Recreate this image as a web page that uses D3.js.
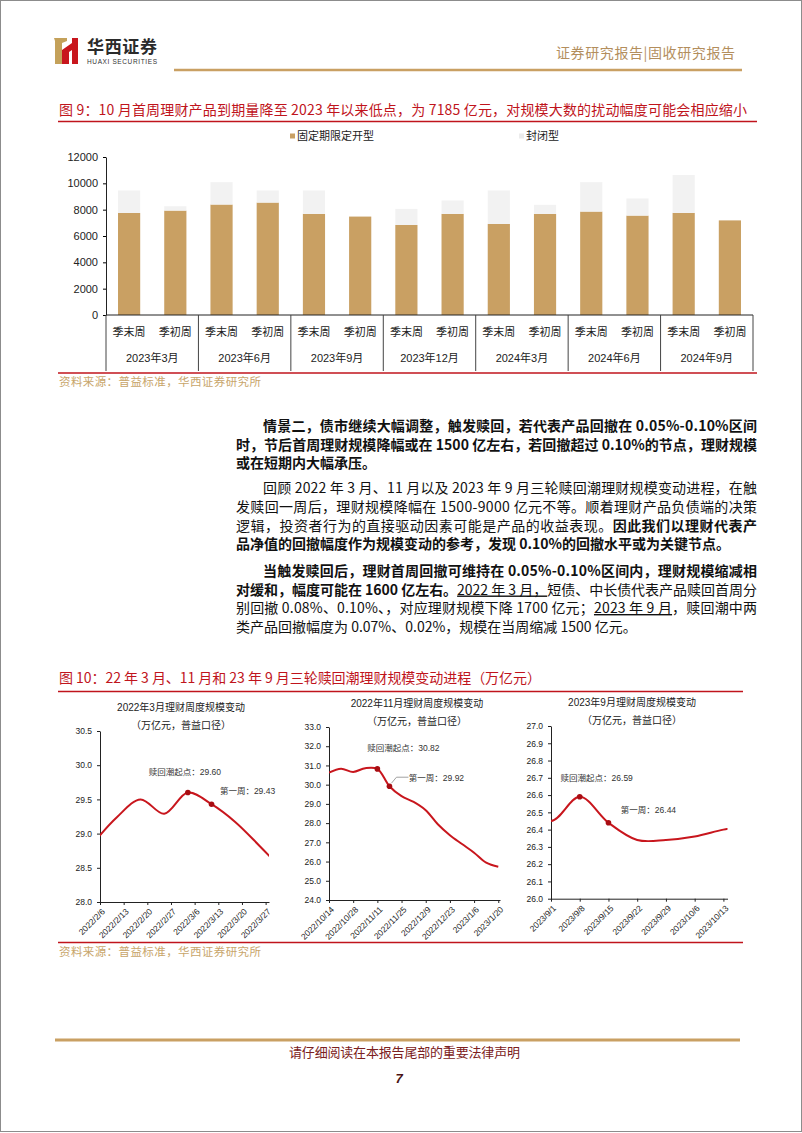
<!DOCTYPE html>
<html lang="zh">
    <head>
        <meta charset="UTF-8" />
        <title>华西证券 固收研究报告</title>
        <style>
            body { margin: 0; background: #fff; }
            svg text { font-family: "Liberation Sans", "Noto Sans CJK SC", sans-serif; }
        </style>
    </head>
    <body>
        <div id="main"></div>
        <script src="https://cdn.jsdelivr.net/npm/d3@7/dist/d3.min.js"></script>
        <script>
            // figure 9: weekly maturities (亿元)
            const barGroups = ["2023年3月", "2023年6月", "2023年9月", "2023年12月", "2024年3月", "2024年6月", "2024年9月"]
            const weekTypes = ["季末周", "季初周"]
            const fixedTerm = [7750, 7930, 8390, 8540, 7680, 7475, 6840, 7680, 6915, 7680, 7855, 7550, 7755, 7185]
            const closedEnd = [1710, 330, 1700, 920, 1780, 0, 1220, 1020, 2545, 685, 2235, 1300, 2875, 0]
            const barTicks = [0, 2000, 4000, 6000, 8000, 10000, 12000]
            const seriesNames = ["固定期限定开型", "封闭型"]

            // figure 10: weekly scale (万亿元)
            const mar22Dates = ["2022-02-04", "2022-02-11", "2022-02-18", "2022-02-25", "2022-03-04", "2022-03-11", "2022-03-18", "2022-03-25", "2022-04-01"]
            const mar22Values = [28.86, 29.24, 29.5, 29.29, 29.6, 29.43, 29.17, 28.83, 28.47]
            const mar22Ticks = ["2022/2/6", "2022/2/13", "2022/2/20", "2022/2/27", "2022/3/6", "2022/3/13", "2022/3/20", "2022/3/27"]
            const mar22YTicks = [28.0, 28.5, 29.0, 29.5, 30.0, 30.5]

            const nov22Dates = ["2022-10-14", "2022-10-21", "2022-10-28", "2022-11-04", "2022-11-11", "2022-11-18", "2022-11-25", "2022-12-02", "2022-12-09", "2022-12-16", "2022-12-23", "2022-12-30", "2023-01-06", "2023-01-13", "2023-01-20"]
            const nov22Values = [30.63, 30.83, 30.66, 30.86, 30.82, 29.92, 29.4, 29.1, 28.67, 27.94, 27.37, 26.91, 26.46, 25.94, 25.73]
            const nov22Ticks = ["2022/10/14", "2022/10/28", "2022/11/11", "2022/11/25", "2022/12/9", "2022/12/23", "2023/1/6", "2023/1/20"]
            const nov22YTicks = [24, 25, 26, 27, 28, 29, 30, 31, 32, 33]

            const sep23Dates = ["2023-08-25", "2023-09-01", "2023-09-08", "2023-09-15", "2023-09-22", "2023-09-29", "2023-10-06", "2023-10-13", "2023-10-20"]
            const sep23Values = [26.56, 26.45, 26.59, 26.44, 26.34, 26.34, 26.36, 26.4, 26.43]
            const sep23Ticks = ["2023/9/1", "2023/9/8", "2023/9/15", "2023/9/22", "2023/9/29", "2023/10/6", "2023/10/13"]
            const sep23YTicks = [26.0, 26.1, 26.2, 26.3, 26.4, 26.5, 26.6, 26.7, 26.8, 26.9, 27.0]

            const gold = "#c9a063"
            const red = "#c0141c"
            const cjk = "\"Noto Sans CJK SC\", sans-serif"

            const svg = d3.select("#main")
                .append("svg")
                .attr("width", 802)
                .attr("height", 1133)

            svg.append("rect")
                .attr("x", 0.5).attr("y", 0.5)
                .attr("width", 801).attr("height", 1131)
                .attr("fill", "none")
                .attr("stroke", "#8c8c8c")

            drawHeader()
            drawBarChart()
            drawParagraphs()
            drawFigure10()
            drawFooter()

            function fitLine(sel, target) {
                const node = sel.node()
                const natural = node.getComputedTextLength()
                const n = node.textContent.length
                if (n > 1) sel.attr("letter-spacing", (target - natural) / (n - 1))
            }

            function drawHeader() {
                // logo mark
                svg.append("path")
                    .attr("d", "M54,38 L67,38 L67,41 L62,43 L62,64 L55,64 L55,41 Z")
                    .attr("fill", "#c4a15a")
                svg.append("path")
                    .attr("d", "M62,50 L72,43 L72,38 L78,38 L78,64 L72,64 L72,50 L69,52 L69,64 L62,64 Z")
                    .attr("fill", "#c8161d")
                svg.append("text")
                    .attr("x", 87).attr("y", 53)
                    .attr("font-size", 17)
                    .attr("font-weight", 700)
                    .attr("fill", "#2b2b2b")
                    .style("font-family", cjk)
                    .text("华西证券")
                    .call(fitLine, 70)
                svg.append("text")
                    .attr("x", 87).attr("y", 64)
                    .attr("font-size", 6.5)
                    .attr("fill", "#333")
                    .text("HUAXI SECURITIES")
                    .call(fitLine, 70)

                svg.append("text")
                    .attr("x", 556).attr("y", 58)
                    .attr("font-size", 14)
                    .attr("fill", "#b38e5d")
                    .style("font-family", cjk)
                    .text("证券研究报告|固收研究报告")
                    .call(fitLine, 179)
                svg.append("line")
                    .attr("x1", 174).attr("x2", 742)
                    .attr("y1", 70).attr("y2", 70)
                    .attr("stroke", gold)
                    .attr("stroke-width", 2.5)

                svg.append("text")
                    .attr("x", 59).attr("y", 115)
                    .attr("font-size", 14)
                    .attr("fill", red)
                    .style("font-family", cjk)
                    .text("图 9：10 月首周理财产品到期量降至 2023 年以来低点，为 7185 亿元，对规模大数的扰动幅度可能会相应缩小")
                    .call(fitLine, 688)
                svg.append("line")
                    .attr("x1", 58).attr("x2", 757)
                    .attr("y1", 121.5).attr("y2", 121.5)
                    .attr("stroke", red)
                    .attr("stroke-width", 1.5)
            }

            function drawBarChart() {
                const rows = fixedTerm.map((d, i) => ({
                    group: barGroups[Math.floor(i / 2)],
                    week: weekTypes[i % 2],
                    fixed: d,
                    closed: closedEnd[i]
                }))
                const stack = d3.stack().keys(["fixed", "closed"])(rows)

                const x0 = d3.scaleBand().domain(barGroups).range([106, 753])
                const x1 = d3.scaleBand()
                    .domain(weekTypes)
                    .range([0, x0.bandwidth()])
                    .paddingInner(0.52)
                    .paddingOuter(0.26)
                const y = d3.scaleLinear().domain([0, 12000]).range([315, 157])
                const colors = [gold, "#f2f2f2"]

                const g = svg.append("g")
                g.selectAll("g.series")
                    .data(stack)
                    .enter()
                    .append("g")
                    .classed("series", true)
                    .attr("fill", (d, i) => colors[i])
                    .selectAll("rect")
                    .data((d) => d)
                    .enter()
                    .append("rect")
                    .attr("x", (d) => x0(d.data.group) + x1(d.data.week))
                    .attr("y", (d) => y(d[1]))
                    .attr("width", x1.bandwidth())
                    .attr("height", (d) => y(d[0]) - y(d[1]))

                const yAxis = g.append("g")
                    .attr("transform", "translate(106,0)")
                    .call(d3.axisLeft(y).tickValues(barTicks).tickFormat(d3.format("d")).tickSize(3).tickPadding(5).tickSizeOuter(0))
                yAxis.selectAll("text").attr("font-size", 11).attr("fill", "#222")
                yAxis.select(".domain").attr("stroke", "#222")

                g.append("line")
                    .attr("x1", 106).attr("x2", 753)
                    .attr("y1", 315).attr("y2", 315)
                    .attr("stroke", "#222")
                g.selectAll("line.divider")
                    .data(barGroups.map((d) => x0(d)).concat([753]))
                    .enter()
                    .append("line")
                    .classed("divider", true)
                    .attr("x1", (d) => d).attr("x2", (d) => d)
                    .attr("y1", 315).attr("y2", 371)
                    .attr("stroke", "#444")
                g.selectAll("text.week")
                    .data(rows)
                    .enter()
                    .append("text")
                    .classed("week", true)
                    .attr("x", (d) => x0(d.group) + x1(d.week) + x1.bandwidth() / 2)
                    .attr("y", 336)
                    .attr("text-anchor", "middle")
                    .attr("font-size", 11)
                    .attr("fill", "#222")
                    .text((d) => d.week)
                g.selectAll("text.group")
                    .data(barGroups)
                    .enter()
                    .append("text")
                    .classed("group", true)
                    .attr("x", (d) => x0(d) + x0.bandwidth() / 2)
                    .attr("y", 362)
                    .attr("text-anchor", "middle")
                    .attr("font-size", 11)
                    .attr("fill", "#222")
                    .text((d) => d)

                // legend
                const legendX = [290, 519]
                seriesNames.forEach((name, i) => {
                    g.append("rect")
                        .attr("x", legendX[i]).attr("y", 133.5)
                        .attr("width", 5).attr("height", 5)
                        .attr("fill", i === 0 ? gold : "#ececec")
                    g.append("text")
                        .attr("x", legendX[i] + 7).attr("y", 140)
                        .attr("font-size", 11)
                        .attr("fill", "#222")
                        .text(name)
                })

                svg.append("line")
                    .attr("x1", 58).attr("x2", 757)
                    .attr("y1", 373).attr("y2", 373)
                    .attr("stroke", red)
                    .attr("stroke-width", 1.5)
                svg.append("text")
                    .attr("x", 59).attr("y", 386)
                    .attr("font-size", 11.5)
                    .attr("fill", "#c8a56a")
                    .style("font-family", cjk)
                    .text("资料来源：普益标准，华西证券研究所")
                    .call(fitLine, 202)
            }

            function drawParagraphs() {
                // [segments, baseline, indent, justify]; segment = [text, bold, underline]
                const lines = [
                    [[["情景二，债市继续大幅调整，触发赎回，若代表产品回撤在 0.05%-0.10%区间", 1]], 431, 1, 1],
                    [[["时，节后首周理财规模降幅或在 1500 亿左右，若回撤超过 0.10%的节点，理财规模", 1]], 449.5, 0, 1],
                    [[["或在短期内大幅承压。", 1]], 468, 0, 0],
                    [[["回顾 2022 年 3 月、11 月以及 2023 年 9 月三轮赎回潮理财规模变动进程，在触", 0]], 493, 1, 1],
                    [[["发赎回一周后，理财规模降幅在 1500-9000 亿元不等。顺着理财产品负债端的决策", 0]], 512, 0, 1],
                    [[["逻辑，投资者行为的直接驱动因素可能是产品的收益表现。", 0], ["因此我们以理财代表产", 1]], 530.5, 0, 1],
                    [[["品净值的回撤幅度作为规模变动的参考，发现 0.10%的回撤水平或为关键节点。", 1]], 549, 0, 0],
                    [[["当触发赎回后，理财首周回撤可维持在 0.05%-0.10%区间内，理财规模缩减相", 1]], 576, 1, 1],
                    [[["对缓和，幅度可能在 1600 亿左右。", 1], ["2022 年 3 月，", 0, 1], ["短债、中长债代表产品赎回首周分", 0]], 594.5, 0, 1],
                    [[["别回撤 0.08%、0.10%、，对应理财规模下降 1700 亿元；", 0], ["2023 年 9 月", 0, 1], ["，赎回潮中两", 0]], 613, 0, 1],
                    [[["类产品回撤幅度为 0.07%、0.02%，规模在当周缩减 1500 亿元。", 0]], 631.5, 0, 0]
                ]
                lines.forEach(([segments, yPos, indent, justify]) => {
                    const x = indent ? 263 : 236
                    const t = svg.append("text")
                        .attr("x", x).attr("y", yPos)
                        .attr("font-size", 14)
                        .attr("fill", "#111")
                        .style("font-family", cjk)
                    t.selectAll("tspan")
                        .data(segments)
                        .enter()
                        .append("tspan")
                        .attr("font-weight", (d) => (d[1] ? 700 : 400))
                        .style("text-decoration", (d) => (d[2] ? "underline" : "none"))
                        .text((d) => d[0])
                    if (justify) fitLine(t, 757 - x)
                })
            }

            function drawLineChart(cfg) {
                const parse = d3.utcParse("%Y-%m-%d")
                const parseTick = d3.utcParse("%Y/%m/%d")
                const points = cfg.dates.map((d, i) => ({ date: parse(d), value: cfg.values[i] }))
                const x = d3.scaleUtc().domain(cfg.xDomain.map(parse)).range([cfg.left, cfg.right])
                const y = d3.scaleLinear().domain(cfg.yDomain).range([cfg.bottom, cfg.top])
                const g = svg.append("g")

                g.append("text")
                    .attr("x", cfg.titleX).attr("y", cfg.top - 20)
                    .attr("text-anchor", "middle")
                    .attr("font-size", 10)
                    .attr("fill", "#222")
                    .text(cfg.title)
                g.append("text")
                    .attr("x", cfg.titleX).attr("y", cfg.top - 2)
                    .attr("text-anchor", "middle")
                    .attr("font-size", 10)
                    .attr("fill", "#222")
                    .text("（万亿元，普益口径）")

                const yAxis = g.append("g")
                    .attr("transform", `translate(${cfg.left},0)`)
                    .call(d3.axisLeft(y).tickValues(cfg.yTicks).tickFormat(d3.format(".1f")).tickSize(3).tickPadding(5).tickSizeOuter(0))
                yAxis.selectAll("text").attr("font-size", 8.5).attr("fill", "#222")
                const xAxis = g.append("g")
                    .attr("transform", `translate(0,${cfg.bottom})`)
                    .call(d3.axisBottom(x)
                        .tickValues(cfg.ticks.map(parseTick))
                        .tickFormat(d3.utcFormat("%Y/%-m/%-d"))
                        .tickSize(3)
                        .tickSizeOuter(0))
                xAxis.selectAll("text")
                    .attr("font-size", 8.5)
                    .attr("fill", "#222")
                    .attr("text-anchor", "end")
                    .attr("x", 0).attr("y", 0).attr("dy", "0.35em")
                    .attr("transform", "translate(3,8) rotate(-45)")
                g.selectAll(".domain, .tick line").attr("stroke", "#222")

                const clipId = `clip-${cfg.id}`
                g.append("clipPath")
                    .attr("id", clipId)
                    .append("rect")
                    .attr("x", cfg.left).attr("y", cfg.top - 10)
                    .attr("width", cfg.right - cfg.left)
                    .attr("height", cfg.bottom - cfg.top + 10)
                g.append("path")
                    .datum(points)
                    .attr("clip-path", `url(#${clipId})`)
                    .attr("fill", "none")
                    .attr("stroke", "#c8161d")
                    .attr("stroke-width", 2)
                    .attr("d", d3.line().x((d) => x(d.date)).y((d) => y(d.value)).curve(d3.curveCatmullRom))

                cfg.marks.forEach(({ index, label, dx, dy, leader }) => {
                    const p = points[index]
                    const px = x(p.date)
                    const py = y(p.value)
                    g.append("circle")
                        .attr("cx", px).attr("cy", py)
                        .attr("r", 2.8)
                        .attr("fill", "#a80d12")
                    g.append("text")
                        .attr("x", px + dx).attr("y", py + dy)
                        .attr("text-anchor", "middle")
                        .attr("font-size", 8.5)
                        .attr("fill", "#333")
                        .text(`${label}：${p.value.toFixed(2)}`)
                    if (leader) {
                        g.append("polyline")
                            .attr("points", [[px + 2, py - 3], [px + 7, py - 9], [px + 19, py - 9]].join(" "))
                            .attr("fill", "none")
                            .attr("stroke", "#8a8a8a")
                            .attr("stroke-width", 0.8)
                    }
                })
            }

            function drawFigure10() {
                svg.append("text")
                    .attr("x", 59).attr("y", 683)
                    .attr("font-size", 14)
                    .attr("fill", red)
                    .style("font-family", cjk)
                    .text("图 10：22 年 3 月、11 月和 23 年 9 月三轮赎回潮理财规模变动进程（万亿元）")
                    .call(fitLine, 482)
                svg.append("line")
                    .attr("x1", 58).attr("x2", 743)
                    .attr("y1", 691.5).attr("y2", 691.5)
                    .attr("stroke", red)
                    .attr("stroke-width", 1.5)

                drawLineChart({
                    id: "mar22",
                    title: "2022年3月理财周度规模变动",
                    titleX: 181,
                    dates: mar22Dates, values: mar22Values, ticks: mar22Ticks, yTicks: mar22YTicks,
                    xDomain: ["2022-02-06", "2022-03-28"], yDomain: [28, 30.5],
                    left: 100, right: 269, top: 731, bottom: 902,
                    marks: [
                        { index: 4, label: "赎回潮起点", dx: -3, dy: -18 },
                        { index: 5, label: "第一周", dx: 36, dy: -10 }
                    ]
                })
                drawLineChart({
                    id: "nov22",
                    title: "2022年11月理财周度规模变动",
                    titleX: 417,
                    dates: nov22Dates, values: nov22Values, ticks: nov22Ticks, yTicks: nov22YTicks,
                    xDomain: ["2022-10-14", "2023-01-21"], yDomain: [24, 33],
                    left: 329, right: 500, top: 727, bottom: 900,
                    marks: [
                        { index: 4, label: "赎回潮起点", dx: 26, dy: -18 },
                        { index: 5, label: "第一周", dx: 47, dy: -5, leader: true }
                    ]
                })
                drawLineChart({
                    id: "sep23",
                    title: "2023年9月理财周度规模变动",
                    titleX: 632,
                    dates: sep23Dates, values: sep23Values, ticks: sep23Ticks, yTicks: sep23YTicks,
                    xDomain: ["2023-09-01", "2023-10-14"], yDomain: [26, 27],
                    left: 551, right: 727.5, top: 726, bottom: 898.7,
                    marks: [
                        { index: 2, label: "赎回潮起点", dx: 17, dy: -16 },
                        { index: 3, label: "第一周", dx: 40, dy: -10 }
                    ]
                })

                svg.append("line")
                    .attr("x1", 58).attr("x2", 743)
                    .attr("y1", 942.5).attr("y2", 942.5)
                    .attr("stroke", red)
                    .attr("stroke-width", 1.5)
                svg.append("text")
                    .attr("x", 59).attr("y", 956)
                    .attr("font-size", 11.5)
                    .attr("fill", "#c8a56a")
                    .style("font-family", cjk)
                    .text("资料来源：普益标准，华西证券研究所")
                    .call(fitLine, 202)
            }

            function drawFooter() {
                svg.append("line")
                    .attr("x1", 55).attr("x2", 740)
                    .attr("y1", 1040).attr("y2", 1040)
                    .attr("stroke", gold)
                    .attr("stroke-width", 3)
                svg.append("text")
                    .attr("x", 289).attr("y", 1057)
                    .attr("font-size", 13)
                    .attr("fill", "#7b2020")
                    .style("font-family", cjk)
                    .text("请仔细阅读在本报告尾部的重要法律声明")
                    .call(fitLine, 231)
                svg.append("text")
                    .attr("x", 399).attr("y", 1083)
                    .attr("text-anchor", "middle")
                    .attr("font-size", 13)
                    .attr("font-weight", 700)
                    .attr("font-style", "italic")
                    .attr("fill", "#4a1414")
                    .text("7")
            }
        </script>
    </body>
</html>
